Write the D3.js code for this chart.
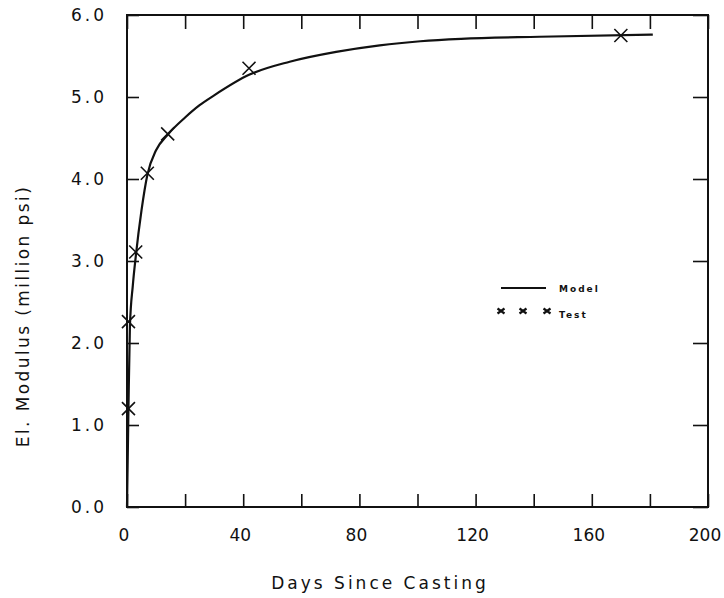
<!DOCTYPE html>
<html>
<head>
<meta charset="utf-8">
<script src="https://cdn.jsdelivr.net/npm/d3@7"></script>
<style>
  body { margin: 0; background: #fff; }
  svg { display: block; }
  text { font-family: "DejaVu Sans", sans-serif; fill: #111; }
</style>
</head>
<body>
<svg id="chart" width="724" height="598"></svg>
<script>
// model curve (days, million psi)
var modelDays = [0, 0.5, 1, 2, 3, 5, 7, 10, 14, 20, 25, 30, 42, 56, 72, 87, 101, 115, 142, 181];
var modelE    = [0, 1.2, 2.2, 2.7, 3.05, 3.62, 4.05, 4.35, 4.54, 4.75, 4.9, 5.02, 5.27, 5.43, 5.55, 5.63, 5.68, 5.71, 5.735, 5.76];

// test points
var testDays = [0.5, 0.5, 3, 7, 14, 42, 170];
var testE    = [1.2, 2.26, 3.11, 4.07, 4.55, 5.35, 5.75];

var xTicks = d3.range(0, 201, 20);
var xLabels = [0, 40, 80, 120, 160, 200];
var yTicks = [0, 1, 2, 3, 4, 5, 6];

var svg = d3.select("#chart"),
    plotL = 127, plotR = 708, plotT = 15, plotB = 507;

var x = d3.scaleLinear().domain([0, 200]).range([plotL, plotR]);
var y = d3.scaleLinear().domain([0, 6]).range([plotB, plotT]);

var ink = "#111";

// frame
svg.append("rect")
    .attr("x", plotL).attr("y", plotT)
    .attr("width", plotR - plotL).attr("height", plotB - plotT)
    .attr("fill", "none").attr("stroke", ink).attr("stroke-width", 2);

// inward ticks on all four sides
function noLabels(ax) {
  ax.select(".domain").remove();
  ax.selectAll("text").remove();
  ax.selectAll("line").attr("stroke", ink).attr("stroke-width", 1.6);
}
svg.append("g").attr("transform", "translate(0," + plotB + ")")
    .call(d3.axisBottom(x).tickValues(xTicks).tickSize(-13)).call(noLabels);
svg.append("g").attr("transform", "translate(0," + plotT + ")")
    .call(d3.axisTop(x).tickValues(xTicks).tickSize(-14)).call(noLabels);
svg.append("g").attr("transform", "translate(" + plotL + ",0)")
    .call(d3.axisLeft(y).tickValues(yTicks).tickSize(-12)).call(noLabels);
svg.append("g").attr("transform", "translate(" + plotR + ",0)")
    .call(d3.axisRight(y).tickValues(yTicks).tickSize(-15)).call(noLabels);

// tick labels
svg.append("g").selectAll("text")
    .data(xLabels).enter().append("text")
    .attr("x", function (d) { return x(d) - 3; })
    .attr("y", 541)
    .attr("text-anchor", "middle")
    .style("font-size", "17px")
    .text(function (d) { return d; });

svg.append("g").selectAll("text")
    .data(yTicks).enter().append("text")
    .attr("x", 107)
    .attr("y", function (d) { return y(d) + 6; })
    .attr("text-anchor", "end")
    .style("font-size", "17px")
    .style("letter-spacing", "3px")
    .text(function (d) { return d.toFixed(1); });

// axis titles
svg.append("text")
    .attr("x", 380).attr("y", 589)
    .attr("text-anchor", "middle")
    .style("font-size", "17px")
    .style("letter-spacing", "3px")
    .text("Days Since Casting");

svg.append("text")
    .attr("transform", "translate(29,316) rotate(-90)")
    .attr("text-anchor", "middle")
    .style("font-size", "17px")
    .style("letter-spacing", "2.4px")
    .text("El. Modulus (million psi)");

// model line
var model = modelDays.map(function (d, i) { return [d, modelE[i]]; });
var line = d3.line()
    .x(function (d) { return x(d[0]); })
    .y(function (d) { return y(d[1]); })
    .curve(d3.curveMonotoneX);

svg.append("path")
    .datum(model)
    .attr("d", line)
    .attr("fill", "none")
    .attr("stroke", ink)
    .attr("stroke-width", 2.2);

// test markers
svg.append("g").selectAll("path")
    .data(testDays).enter().append("path")
    .attr("transform", function (d, i) { return "translate(" + x(d) + "," + y(testE[i]) + ")"; })
    .attr("d", "M-6.5,-6.5L6.5,6.5M-6.5,6.5L6.5,-6.5")
    .attr("stroke", ink)
    .attr("stroke-width", 1.6)
    .attr("fill", "none");

// legend
var lg = svg.append("g");
lg.append("line")
    .attr("x1", 501).attr("x2", 546).attr("y1", 288).attr("y2", 288)
    .attr("stroke", ink).attr("stroke-width", 2.2);
lg.append("text")
    .attr("x", 559).attr("y", 292)
    .style("font-size", "9px").style("font-weight", "bold")
    .style("letter-spacing", "2px")
    .text("Model");
lg.selectAll("path")
    .data([501, 523, 547]).enter().append("path")
    .attr("transform", function (d) { return "translate(" + d + ",311)"; })
    .attr("d", "M-3.5,-2.5L3.5,2.5M-3.5,2.5L3.5,-2.5")
    .attr("stroke", ink).attr("stroke-width", 2.2).attr("fill", "none");
lg.append("text")
    .attr("x", 559).attr("y", 318)
    .style("font-size", "9px").style("font-weight", "bold")
    .style("letter-spacing", "2px")
    .text("Test");
</script>
</body>
</html>
